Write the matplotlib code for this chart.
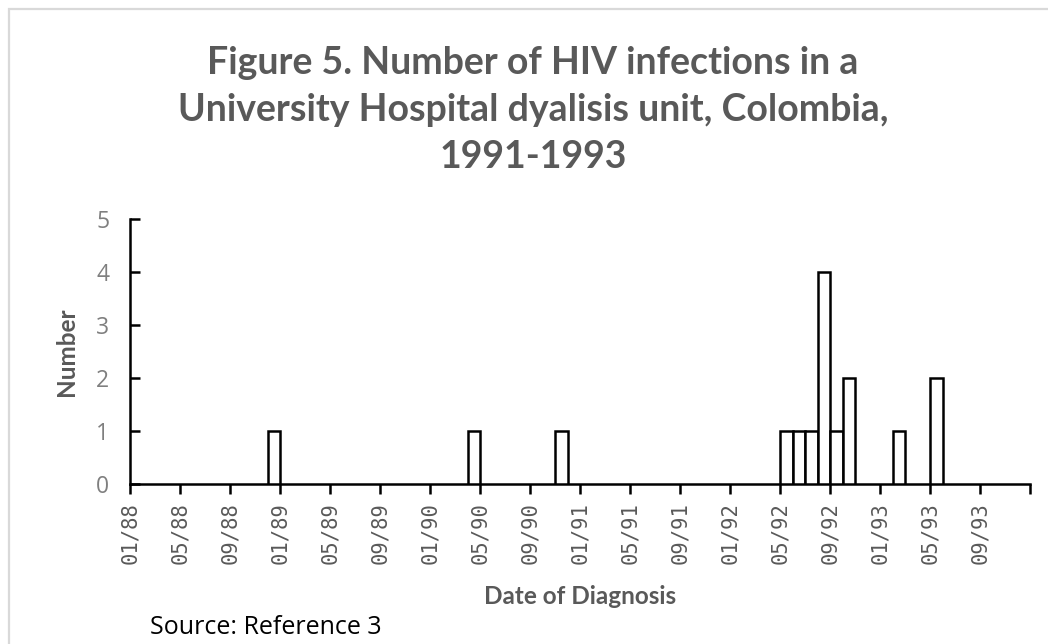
import matplotlib
matplotlib.use("Agg")
import matplotlib.pyplot as plt
from matplotlib.patches import Rectangle

# ---- data ----
diagnosis_months = ["12/88", "04/90", "11/90", "05/92", "06/92", "07/92",
                    "08/92", "09/92", "10/92", "02/93", "05/93"]
counts = [1, 1, 1, 1, 1, 1, 4, 1, 2, 1, 2]
tick_labels = ["01/88", "05/88", "09/88", "01/89", "05/89", "09/89",
               "01/90", "05/90", "09/90", "01/91", "05/91", "09/91",
               "01/92", "05/92", "09/92", "01/93", "05/93", "09/93", ""]
y_ticks = [0, 1, 2, 3, 4, 5]

title = "Figure 5. Number of HIV infections in a\nUniversity Hospital dyalisis unit, Colombia,\n1991-1993"
x_title = "Date of Diagnosis"
y_title = "Number"
source = "Source: Reference 3"

START_YEAR, START_MONTH = 1988, 1


def month_index(s):
    m, y = s.split("/")
    return (1900 + int(y) - START_YEAR) * 12 + int(m) - START_MONTH


W, H = 1048, 644
fig = plt.figure(figsize=(W / 100, H / 100), dpi=100)
fig.patch.set_facecolor("white")

# chart border
fig.patches.append(Rectangle((9 / W, -0.01), 1.1, (H - 9) / H + 0.01,
                             transform=fig.transFigure, fill=False,
                             edgecolor="#d9d9d9", linewidth=1.6))

ax = fig.add_axes([130 / W, 1 - 484 / H, 900 / W, (484 - 219) / H])

xs = [month_index(m) for m in diagnosis_months]
ax.bar(xs, counts, width=1.0, align="edge", facecolor="white",
       edgecolor="black", linewidth=1.8, zorder=3)

n_ticks = len(tick_labels)
ax.set_xlim(0, (n_ticks - 1) * 4)
ax.set_ylim(0, 5)
ax.set_xticks([i * 4 for i in range(n_ticks)])
ax.set_xticklabels(tick_labels, rotation=90, family="DejaVu Sans Mono",
                   fontsize=14.8, color="#595959")
ax.set_yticks(y_ticks)
ax.set_yticklabels([str(v) for v in y_ticks], family="Open Sans",
                   fontsize=16.5, color="#7f7f7f")

for s in ["top", "right"]:
    ax.spines[s].set_visible(False)
for s in ["left", "bottom"]:
    ax.spines[s].set_linewidth(1.8)
    ax.spines[s].set_color("black")
ax.tick_params(axis="x", direction="out", length=7, width=1.8, pad=6)
ax.tick_params(axis="y", direction="in", length=7, width=1.8, pad=15)

fig.text(533 / W, 1 - 110 / H, title, ha="center", va="center",
         family="Lato", fontweight="bold", fontsize=27, color="#595959",
         linespacing=1.45)

fig.text(580 / W, 1 - 596 / H, x_title, ha="center", va="center",
         family="Lato", fontweight="bold", fontsize=17.5, color="#595959")
fig.text(66 / W, 1 - 352 / H, y_title, ha="center", va="center",
         rotation=90, family="Lato", fontweight="bold", fontsize=17.5,
         color="#595959")
fig.text(150 / W, 1 - 628 / H, source, ha="left", va="center",
         family="Open Sans", fontsize=18, color="black")

fig.savefig("out.png", dpi=100, facecolor="white")
